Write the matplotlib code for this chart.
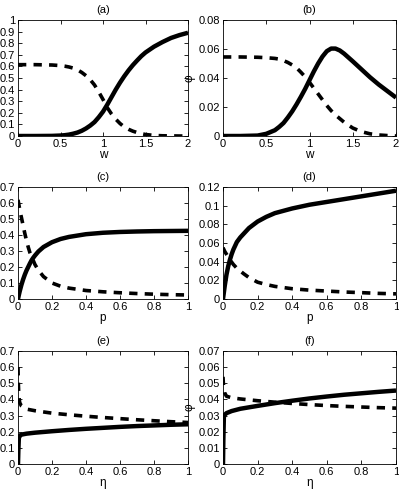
import matplotlib
matplotlib.use('Agg')
import matplotlib.pyplot as plt
from matplotlib.ticker import FuncFormatter

plt.rcParams['font.family'] = ['Liberation Sans Narrow', 'Liberation Sans', 'DejaVu Sans']
plt.rcParams['font.size'] = 8

# panel (a) and (b): against w
w_a = [0, 0.2, 0.4, 0.5, 0.55, 0.6, 0.65, 0.7, 0.75, 0.8, 0.85, 0.9, 0.95, 1.0, 1.05, 1.1, 1.15,
       1.2, 1.25, 1.3, 1.35, 1.4, 1.45, 1.5, 1.6, 1.7, 1.8, 1.9, 2.0]
solid_a = [0, 0, 0.001, 0.004, 0.007, 0.012, 0.02, 0.03, 0.045, 0.065, 0.09, 0.12, 0.162, 0.21, 0.27,
           0.335, 0.4, 0.46, 0.515, 0.565, 0.61, 0.65, 0.688, 0.72, 0.77, 0.81, 0.845, 0.87, 0.89]
dash_a = [0.615, 0.615, 0.612, 0.607, 0.602, 0.595, 0.585, 0.57, 0.548, 0.52, 0.485, 0.44, 0.38, 0.315,
          0.245, 0.19, 0.145, 0.108, 0.078, 0.058, 0.042, 0.03, 0.02, 0.013, 0.005, 0.002, 0.001, 0, 0]

w_b = [0, 0.2, 0.4, 0.5, 0.6, 0.65, 0.7, 0.75, 0.8, 0.85, 0.9, 0.95, 1.0, 1.05, 1.1, 1.15, 1.2, 1.25,
       1.3, 1.35, 1.4, 1.5, 1.6, 1.7, 1.8, 1.9, 2.0]
solid_b = [0, 0, 0.0003, 0.0015, 0.004, 0.0063, 0.009, 0.0128, 0.017, 0.0218, 0.027, 0.0325, 0.0385,
           0.0445, 0.050, 0.0548, 0.0585, 0.0603, 0.0603, 0.059, 0.0568, 0.0515, 0.046, 0.0405,
           0.0355, 0.031, 0.0265]
dash_b = [0.0545, 0.0545, 0.0543, 0.054, 0.0535, 0.053, 0.052, 0.0507, 0.049, 0.047, 0.044, 0.0408,
          0.037, 0.033, 0.029, 0.025, 0.021, 0.0175, 0.0145, 0.012, 0.0095, 0.0055, 0.003, 0.0015,
          0.0007, 0.0003, 0]

# panel (c) and (d): against p
p_c = [0, 0.005, 0.01, 0.02, 0.03, 0.04, 0.05, 0.06, 0.07, 0.08, 0.09, 0.1, 0.12, 0.15, 0.2, 0.25,
       0.3, 0.4, 0.5, 0.6, 0.7, 0.8, 0.9, 1.0]
solid_c = [0, 0.025, 0.048, 0.088, 0.122, 0.152, 0.178, 0.2, 0.222, 0.242, 0.258, 0.272, 0.297, 0.325,
           0.355, 0.375, 0.388, 0.405, 0.414, 0.419, 0.422, 0.424, 0.425, 0.426]
dash_c = [0.62, 0.59, 0.56, 0.51, 0.46, 0.41, 0.365, 0.325, 0.29, 0.265, 0.24, 0.215, 0.18, 0.14,
          0.1, 0.08, 0.068, 0.053, 0.045, 0.039, 0.034, 0.03, 0.027, 0.025]

p_d = [0, 0.005, 0.01, 0.02, 0.03, 0.04, 0.05, 0.06, 0.08, 0.1, 0.12, 0.15, 0.2, 0.25, 0.3, 0.4,
       0.5, 0.6, 0.7, 0.8, 0.9, 1.0]
solid_d = [0, 0.007, 0.014, 0.026, 0.035, 0.042, 0.048, 0.053, 0.061, 0.066, 0.07, 0.076, 0.083,
           0.088, 0.092, 0.097, 0.101, 0.104, 0.107, 0.11, 0.113, 0.116]
dash_d = [0.055, 0.053, 0.051, 0.048, 0.045, 0.042, 0.0395, 0.037, 0.033, 0.03, 0.027, 0.023, 0.018,
          0.0155, 0.0135, 0.011, 0.0095, 0.0085, 0.0075, 0.0068, 0.006, 0.0055]

# panel (e) and (f): against eta
eta = [0, 0.002, 0.005, 0.01, 0.02, 0.05, 0.1, 0.2, 0.3, 0.4, 0.5, 0.6, 0.7, 0.8, 0.9, 1.0]
solid_e = [0, 0.08, 0.16, 0.175, 0.182, 0.188, 0.194, 0.203, 0.211, 0.218, 0.224, 0.23, 0.235, 0.239, 0.243, 0.246]
dash_e = [0.6, 0.5, 0.42, 0.38, 0.36, 0.34, 0.33, 0.315, 0.305, 0.296, 0.288, 0.281, 0.274, 0.268, 0.262, 0.257]
solid_f = [0, 0.015, 0.029, 0.0305, 0.0315, 0.0328, 0.0342, 0.036, 0.0377, 0.0392, 0.0406, 0.0418,
           0.0429, 0.0438, 0.0447, 0.0455]
dash_f = [0.054, 0.05, 0.047, 0.044, 0.042, 0.041, 0.0403, 0.0392, 0.0383, 0.0375, 0.0368, 0.0362,
          0.0357, 0.0353, 0.0349, 0.0346]

panels = [
    ('(a)', 'w', w_a, solid_a, dash_a, 2, [0, 0.5, 1, 1.5, 2], 1.0, [i / 10 for i in range(11)]),
    ('(b)', 'w', w_b, solid_b, dash_b, 2, [0, 0.5, 1, 1.5, 2], 0.08, [0, 0.02, 0.04, 0.06, 0.08]),
    ('(c)', 'p', p_c, solid_c, dash_c, 1, [0, 0.2, 0.4, 0.6, 0.8, 1], 0.7, [i / 10 for i in range(8)]),
    ('(d)', 'p', p_d, solid_d, dash_d, 1, [0, 0.2, 0.4, 0.6, 0.8, 1], 0.12, [0, 0.02, 0.04, 0.06, 0.08, 0.1, 0.12]),
    ('(e)', '\u03b7', eta, solid_e, dash_e, 1, [0, 0.2, 0.4, 0.6, 0.8, 1], 0.7, [i / 10 for i in range(8)]),
    ('(f)', '\u03b7', eta, solid_f, dash_f, 1, [0, 0.2, 0.4, 0.6, 0.8, 1], 0.07, [i / 100 for i in range(8)]),
]

W, H = 399, 498
fig = plt.figure(figsize=(W / 100, H / 100), dpi=100)

col_px = [(18, 188), (223, 396)]
row_px = [(20, 136), (187, 299), (351, 464)]

fmt = FuncFormatter(lambda v, pos: '%g' % round(v, 6))

for i, (title, xlab, x, ys, yd, xmax, xt, ymax, yt) in enumerate(panels):
    r, c = divmod(i, 2)
    x0, x1 = col_px[c]
    t0, t1 = row_px[r]
    ax = fig.add_axes([x0 / W, 1 - t1 / H, (x1 - x0) / W, (t1 - t0) / H])
    ax.plot(x, ys, color='black', lw=3.2, solid_capstyle='butt', solid_joinstyle='round')
    ax.plot(x, yd, color='black', lw=2.6, ls=(0, (2.3, 2.0)), dash_capstyle='butt')
    ax.set_xlim(0, xmax)
    ax.set_ylim(0, ymax)
    ax.set_xticks(xt)
    ax.set_yticks(yt)
    ax.xaxis.set_major_formatter(fmt)
    ax.yaxis.set_major_formatter(fmt)
    ax.tick_params(direction='in', top=True, right=True, length=3, width=0.6, pad=2, labelsize=8)
    for s in ax.spines.values():
        s.set_linewidth(0.6)
    ax.set_title(title, fontsize=8, pad=5)
    ax.set_xlabel(xlab, fontsize=8.5, labelpad=0)
    if c == 1 and r != 1:
        # the phi label sits just right of the left panel
        fig.text(190 / W, 1 - (t0 + t1) / 2 / H, '\u03c6', rotation=90, ha='center', va='center', fontsize=8.5)

fig.savefig('out.png', dpi=100)
